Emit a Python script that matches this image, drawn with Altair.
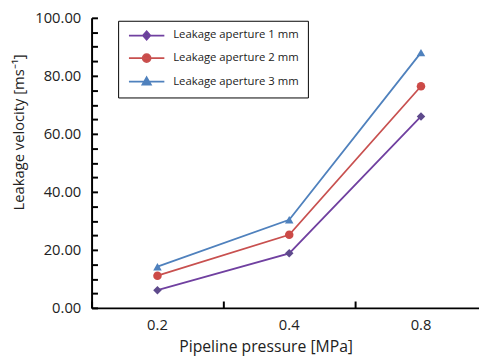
import altair as alt
import pandas as pd

pressures = ["0.2", "0.4", "0.8"]
series_names = ["Leakage aperture 1 mm", "Leakage aperture 2 mm", "Leakage aperture 3 mm"]
v1 = [6.1, 18.8, 66.0]
v2 = [11.1, 25.2, 76.4]
v3 = [14.2, 30.4, 88.0]
line_colors = ["#7040A0", "#C8504F", "#4F81BD"]
marker_colors = ["#5E4A8C", "#CC4A47", "#4F81BD"]
marker_shapes = ["diamond", "circle", "triangle-up"]
y_labels = [0, 20, 40, 60, 80, 100]
y_ticks = list(range(0, 101, 5))

rows = []
for name, vals in zip(series_names, [v1, v2, v3]):
    for p, v in zip(pressures, vals):
        rows.append({"pressure": p, "v": v, "series": name})
df = pd.DataFrame(rows)

FONT = "Open Sans"

xscale = alt.Scale(type="band", domain=pressures, paddingInner=0, paddingOuter=0)
yscale = alt.Scale(domain=[0, 100], nice=False, zero=True)

shape_paths = [
    "M-3.6,0H3.6M0,-0.85L0.75,0L0,0.85L-0.75,0Z",
    "M-3.6,0H3.6M-0.8,0A0.8,0.8 0 1,0 0.8,0A0.8,0.8 0 1,0 -0.8,0Z",
    "M-3.6,0H3.6M0,-0.9L0.85,0.6L-0.85,0.6Z",
]
shape_expr = (
    f"datum.index == 0 ? '{shape_paths[0]}' : (datum.index == 1 ? '{shape_paths[1]}' : '{shape_paths[2]}')"
)
fill_expr = (
    f"datum.index == 0 ? '{marker_colors[0]}' : (datum.index == 1 ? '{marker_colors[1]}' : '{marker_colors[2]}')"
)

legend = alt.Legend(
    title=None,
    orient="none",
    legendX=27,
    legendY=3,
    strokeColor="black",
    fillColor="white",
    padding=9,
    symbolSize=100,
    symbolStrokeWidth=1.8,
    symbolOffset=14,
    symbolType=alt.ExprRef(expr=shape_expr),
    symbolFillColor=alt.ExprRef(expr=fill_expr),
    labelFont=FONT,
    labelFontSize=11.5,
    labelColor="#222",
    labelOffset=21,
    rowPadding=7,
)

base = alt.Chart(df)

lines = base.mark_line(strokeWidth=1.8).encode(
    x=alt.X(
        "pressure:N",
        scale=xscale,
        sort=pressures,
        axis=alt.Axis(
            orient="bottom",
            title="Pipeline pressure [MPa]",
            ticks=False,
            labelAngle=0,
            labelPadding=10,
            domainColor="black",
            domainWidth=2,
            labelFont=FONT,
            labelFontSize=15,
            labelColor="#222",
            titleFont=FONT,
            titleFontSize=16,
            titleFontWeight="normal",
            titleColor="#222",
            titlePadding=6,
            titleX=177,
        ),
    ),
    y=alt.Y(
        "v:Q",
        scale=yscale,
        axis=alt.Axis(
            orient="left",
            title="Leakage velocity [ms⁻¹]",
            values=y_labels,
            format=".2f",
            ticks=False,
            grid=False,
            labelPadding=11,
            domainColor="black",
            domainWidth=2,
            labelFont=FONT,
            labelFontSize=15,
            labelColor="#222",
            titleFont=FONT,
            titleFontSize=15,
            titleFontWeight="normal",
            titleColor="#222",
            titlePadding=8,
            titleY=116,
        ),
    ),
    color=alt.Color("series:N", scale=alt.Scale(domain=series_names, range=line_colors), legend=legend),
)

tick_x_axis = alt.Axis(
    orient="bottom",
    title=None,
    labels=False,
    domain=False,
    ticks=True,
    tickSize=7,
    tickWidth=2,
    tickColor="black",
    offset=-7,
    bandPosition=0,
)
tick_y_axis = alt.Axis(
    orient="left",
    title=None,
    labels=False,
    domain=False,
    grid=False,
    values=y_ticks,
    ticks=True,
    tickSize=6,
    tickWidth=2,
    tickColor="black",
    offset=-6,
)

point_layers = []
for i, name in enumerate(series_names):
    point_layers.append(
        base.transform_filter(alt.datum.series == name)
        .mark_point(filled=True, opacity=1, size=75, strokeWidth=0, shape=marker_shapes[i], color=marker_colors[i])
        .encode(
            x=alt.X("pressure:N", scale=xscale, sort=pressures, axis=tick_x_axis if i == 0 else None),
            y=alt.Y("v:Q", scale=yscale, axis=tick_y_axis if i == 0 else None),
        )
    )

chart = (
    alt.layer(lines, *point_layers)
    .resolve_axis(x="independent", y="independent")
    .properties(
        width=402,
        height=295,
        autosize=alt.AutoSizeParams(type="none"),
        padding={"left": 85, "top": 7, "right": -8, "bottom": 50},
    )
    .configure_view(stroke=None)
)

chart.save("out.html", embed_options={"renderer": "svg", "actions": False})
